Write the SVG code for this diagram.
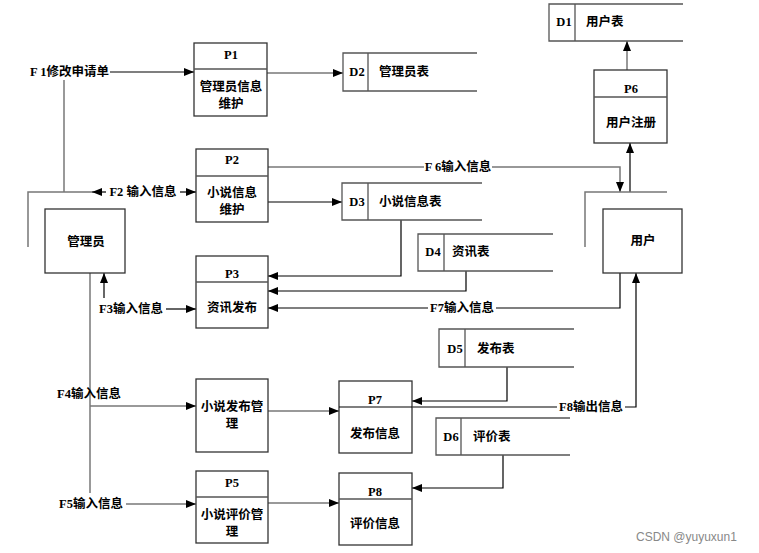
<svg xmlns="http://www.w3.org/2000/svg" width="759" height="553" viewBox="0 0 759 553">
<defs>
<marker id="ah" viewBox="0 0 10 8" markerWidth="11" markerHeight="8" refX="10" refY="4" orient="auto" markerUnits="userSpaceOnUse">
<path d="M0,0 L10,4 L0,8 Z" fill="#000"/>
</marker>
<style>
.box{fill:#fff;stroke:#333;stroke-width:1.3}
.div{stroke:#555;stroke-width:1.3;fill:none}
.ds{fill:none;stroke:#555;stroke-width:1.3}
.c{fill:none;stroke:#000;stroke-width:1.2}
.g{fill:none;stroke:#777;stroke-width:1.5}
.a{marker-end:url(#ah)}
text{font-family:"Liberation Serif","Noto Sans CJK SC",serif;font-size:12.5px;font-weight:bold;fill:#000;dominant-baseline:central}
.m{text-anchor:middle}
.wm{font-family:"Liberation Sans","Noto Sans CJK SC",sans-serif;font-weight:normal;fill:#888;font-size:12px}
</style>
</defs>
<rect width="759" height="553" fill="#fff"/>

<g id="connectors">
<line class="g" x1="64" y1="192" x2="64" y2="80"/>
<line class="c a" x1="110" y1="72" x2="194" y2="72"/>
<polyline class="g" points="28,247 28,192 92,192"/>
<line class="c a" x1="106" y1="192" x2="92" y2="192"/>
<line class="c a" x1="180" y1="192" x2="196" y2="192"/>
<line class="g a" x1="267" y1="73" x2="343" y2="73"/>
<line class="g" x1="268" y1="167" x2="424" y2="167"/>
<polyline class="g a" points="492,167 620,167 620,192"/>
<line class="c a" x1="268" y1="202" x2="342" y2="202"/>
<line class="g a" x1="627" y1="70" x2="627" y2="41"/>
<line class="c a" x1="630" y1="192" x2="630" y2="143"/>
<polyline class="g" points="585,247 585,192 667,192"/>
<polyline class="c a" points="401,220 401,276 268,276"/>
<polyline class="c a" points="466,271 466,291 268,291"/>
<polyline class="c" points="620,273 620,308 496,308"/>
<line class="c a" x1="428" y1="308" x2="268" y2="308"/>
<line class="c a" x1="166" y1="309" x2="196" y2="309"/>
<line class="c a" x1="104" y1="298" x2="104" y2="273"/>
<line class="g" x1="90" y1="273" x2="90" y2="493"/>
<line class="g a" x1="90" y1="406" x2="196" y2="406"/>
<line class="g a" x1="126" y1="504" x2="196" y2="504"/>
<line class="g a" x1="268" y1="411" x2="339" y2="411"/>
<polyline class="c a" points="507,367 507,401 412,401"/>
<line class="c" x1="412" y1="407" x2="557" y2="407"/>
<polyline class="c a" points="625,407 636,407 636,273"/>
<polyline class="c a" points="503,455 503,488 412,488"/>
<line class="g a" x1="268" y1="503" x2="339" y2="503"/>
</g>

<g id="labels">
<text x="30" y="72">F 1修改申请单</text>
<text class="m" x="143" y="192">F2 输入信息</text>
<text class="m" x="458" y="167">F 6输入信息</text>
<text class="m" x="462" y="308">F7输入信息</text>
<text x="99" y="309">F3输入信息</text>
<text x="57" y="394">F4输入信息</text>
<text x="59" y="504">F5输入信息</text>
<text class="m" x="591" y="407">F8输出信息</text>
</g>

<g id="P1">
<rect class="box" x="194" y="43" width="73" height="73"/>
<line class="div" x1="194" y1="69" x2="267" y2="69"/>
<text class="m" x="231" y="55">P1</text>
<text class="m" x="231" y="87">管理员信息</text>
<text class="m" x="231" y="104">维护</text>
</g>
<g id="P2">
<rect class="box" x="196" y="149" width="72" height="73"/>
<line class="div" x1="196" y1="176" x2="268" y2="176"/>
<text class="m" x="232" y="160">P2</text>
<text class="m" x="232" y="193">小说信息</text>
<text class="m" x="232" y="210">维护</text>
</g>
<g id="P3">
<rect class="box" x="196" y="256" width="72" height="72"/>
<line class="div" x1="196" y1="282" x2="268" y2="282"/>
<text class="m" x="232" y="274">P3</text>
<text class="m" x="232" y="308">资讯发布</text>
</g>
<g id="P4">
<rect class="box" x="196" y="379" width="72" height="73" fill="none" style="fill:none"/>
<text class="m" x="232" y="407">小说发布管</text>
<text class="m" x="232" y="424">理</text>
</g>
<g id="P5">
<rect class="box" x="196" y="471" width="72" height="72"/>
<line class="div" x1="196" y1="497" x2="268" y2="497"/>
<text class="m" x="232" y="483">P5</text>
<text class="m" x="232" y="515">小说评价管</text>
<text class="m" x="232" y="532">理</text>
</g>
<g id="P6">
<rect class="box" x="594" y="70" width="73" height="73"/>
<line class="div" x1="594" y1="97" x2="667" y2="97"/>
<text class="m" x="631" y="89">P6</text>
<text class="m" x="631" y="123">用户注册</text>
</g>
<g id="P7">
<rect class="box" x="339" y="381" width="73" height="72" style="fill:none"/>
<line class="c" x1="339" y1="407" x2="412" y2="407"/>
<text class="m" x="375" y="400">P7</text>
<text class="m" x="375" y="434">发布信息</text>
</g>
<g id="P8">
<rect class="box" x="339" y="473" width="73" height="72"/>
<line class="div" x1="339" y1="499" x2="412" y2="499"/>
<text class="m" x="375" y="492">P8</text>
<text class="m" x="375" y="524">评价信息</text>
</g>

<g id="manager">
<rect class="box" x="45" y="209" width="80" height="64"/>
<text class="m" x="86" y="242">管理员</text>
</g>
<g id="user">
<rect class="box" x="603" y="209" width="79" height="64"/>
<text class="m" x="643" y="241">用户</text>
</g>

<g id="D1">
<path class="ds" d="M683,4 H549 V41 H683 M575,4 V41"/>
<text class="m" x="564" y="22">D1</text>
<text x="586" y="22">用户表</text>
</g>
<g id="D2">
<path class="ds" d="M477,53 H343 V91 H477 M368,53 V91"/>
<text class="m" x="357" y="72">D2</text>
<text x="379" y="72">管理员表</text>
</g>
<g id="D3">
<path class="ds" d="M482,183 H342 V220 H482 M368,183 V220"/>
<text class="m" x="357" y="202">D3</text>
<text x="379" y="202">小说信息表</text>
</g>
<g id="D4">
<path class="ds" d="M553,234 H418 V271 H553 M444,234 V271"/>
<text class="m" x="433" y="252">D4</text>
<text x="452" y="252">资讯表</text>
</g>
<g id="D5">
<path class="ds" d="M574,329 H439 V367 H574 M465,329 V367"/>
<text class="m" x="455" y="349">D5</text>
<text x="477" y="349">发布表</text>
</g>
<g id="D6">
<path class="ds" d="M570,418 H436 V455 H570 M461,418 V455"/>
<text class="m" x="451" y="437">D6</text>
<text x="473" y="437">评价表</text>
</g>

<text class="wm" x="636" y="537">CSDN @yuyuxun1</text>
</svg>
